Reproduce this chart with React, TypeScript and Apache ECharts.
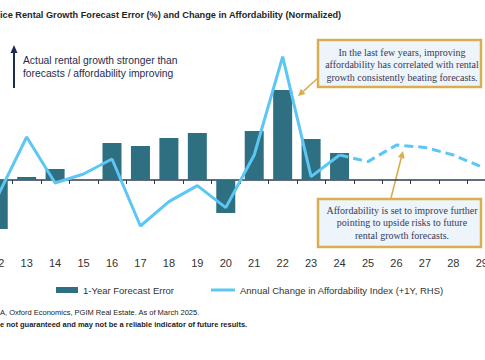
import React, { useEffect, useRef } from "react";
import * as echarts from "echarts";

const years = ["12", "13", "14", "15", "16", "17", "18", "19", "20", "21", "22", "23", "24", "25", "26", "27", "28", "29"];
const forecastError = [-2.45, 0.15, 0.55, 0, 1.85, 1.7, 2.1, 2.35, -1.65, 2.45, 4.5, 2.05, 1.35, null, null, null, null, null];
const affordActual = [-0.75, 2.15, -0.15, 0.3, 1.05, -2.3, -1.08, -0.28, -1.38, 1.25, 6.17, 0.17, 1.25, null, null, null, null, null];
const affordForecast = [null, null, null, null, null, null, null, null, null, null, null, null, 1.25, 0.92, 1.75, 1.63, 1.25, 0.65];

const BAR_NAME = "1-Year Forecast Error";
const LINE_NAME = "Annual Change in Affordability Index (+1Y, RHS)";
const TITLE = "ice Rental Growth Forecast Error (%) and Change in Affordability (Normalized)";
const NOTE1 = ["Actual rental growth stronger than", "forecasts / affordability improving"];
const BOX1 = ["In the last few years, improving", "affordability has correlated with rental", "growth consistently beating forecasts."];
const BOX2 = ["Affordability is set to improve further", "pointing to upside risks to future", "rental growth forecasts."];
const FOOT1 = "A, Oxford Economics, PGIM Real Estate. As of March 2025.";
const FOOT2 = "e not guaranteed and may not be a reliable indicator of future results.";

const SANS = "'Liberation Sans', Arial, sans-serif";
const SERIF = "'Liberation Serif', 'Times New Roman', serif";
const NAVY = "#1F2D4D";
const GOLD = "#D9AE50";
const BAR = "#2F6F82";
const LINE = "#5CC6F4";
const OFF_L = 16;
const OFF_R = 11;

function arrow(x1: number, y1: number, x2: number, y2: number, color: string, w: number, hl: number, hw: number) {
  const dx = x2 - x1, dy = y2 - y1;
  const len = Math.sqrt(dx * dx + dy * dy);
  const ux = dx / len, uy = dy / len;
  const bx = x2 - ux * hl, by = y2 - uy * hl;
  const px = -uy, py = ux;
  return [
    { type: "line", shape: { x1, y1, x2: bx, y2: by }, style: { stroke: color, lineWidth: w } },
    {
      type: "polygon",
      shape: { points: [[x2, y2], [bx + px * hw, by + py * hw], [bx - px * hw, by - py * hw]] },
      style: { fill: color },
    },
  ];
}

function textLines(lines: string[], x: number, y0: number, dy: number, style: any) {
  return lines.map((t, i) => ({
    type: "text",
    x,
    y: y0 + i * dy,
    style: { text: t, verticalAlign: "middle", ...style },
  }));
}

export default function App() {
  const ref = useRef<HTMLDivElement>(null);
  useEffect(() => {
    if (!ref.current) return;
    const chart = echarts.init(ref.current, null, { renderer: "svg" });
    chart.setOption({
      animation: false,
      backgroundColor: "#ffffff",
      grid: { left: 0, right: 0, top: 40, bottom: 110, containLabel: false },
      xAxis: {
        type: "category",
        data: years,
        boundaryGap: true,
        axisLine: { onZero: true, lineStyle: { color: "#2E3B55", width: 1.5 } },
        axisTick: { show: true, length: 4, lineStyle: { color: "#2E3B55", width: 1 } },
        axisLabel: { margin: 7, fontSize: 11, color: "#333333", fontFamily: SANS },
        splitLine: { show: false },
      },
      yAxis: [
        { type: "value", min: -3.5, max: 7, show: false, splitLine: { show: false } },
        { type: "value", min: -3.5, max: 7, show: false, splitLine: { show: false } },
      ],
      legend: [
        {
          left: 51 + OFF_L,
          top: 280,
          itemWidth: 22,
          itemHeight: 6,
          data: [{ name: BAR_NAME, icon: "rect" }],
          textStyle: { fontSize: 9.5, color: "#333333", fontFamily: SANS },
        },
        {
          left: 206 + OFF_L,
          top: 280,
          itemWidth: 24,
          itemHeight: 3,
          data: [{ name: LINE_NAME, icon: "rect" }],
          textStyle: { fontSize: 9.5, color: "#333333", fontFamily: SANS },
        },
      ],
      series: [
        {
          name: BAR_NAME,
          type: "bar",
          data: forecastError,
          barWidth: 19,
          itemStyle: { color: BAR },
          z: 2,
        },
        {
          name: LINE_NAME,
          type: "line",
          yAxisIndex: 1,
          data: affordActual,
          symbol: "none",
          lineStyle: { color: LINE, width: 3 },
          itemStyle: { color: LINE },
          z: 3,
        },
        {
          name: LINE_NAME,
          type: "line",
          yAxisIndex: 1,
          data: affordForecast,
          symbol: "none",
          lineStyle: { color: LINE, width: 3, type: [9, 5] },
          itemStyle: { color: LINE },
          z: 3,
        },
      ],
      graphic: [
        {
          type: "group",
          x: OFF_L,
          y: 0,
          z: 10,
          children: [
            {
              type: "text",
              x: 0,
              y: 15,
              style: { text: TITLE, fontSize: 9.2, fontWeight: "bold", fill: "#262626", fontFamily: SANS, verticalAlign: "middle" },
            },
            ...arrow(14, 88, 14, 45, NAVY, 2, 8, 3.5),
            ...textLines(NOTE1, 23, 60, 13.5, { fontSize: 10.3, fill: NAVY, fontFamily: SANS }),
            {
              type: "rect",
              shape: { x: 318, y: 40, width: 163, height: 47 },
              style: { fill: "#EDF4FA", stroke: GOLD, lineWidth: 2.5 },
            },
            ...textLines(BOX1, 402, 52, 12.7, { fontSize: 10, fill: "#3A3A58", fontFamily: SERIF, align: "center" }),
            {
              type: "rect",
              shape: { x: 318, y: 199, width: 163, height: 48 },
              style: { fill: "#EDF4FA", stroke: GOLD, lineWidth: 2.5 },
            },
            ...textLines(BOX2, 402, 210, 12.5, { fontSize: 10, fill: "#3A3A58", fontFamily: SERIF, align: "center" }),
            ...arrow(318, 78, 298, 96, GOLD, 1.6, 7, 3.5),
            ...arrow(391, 198, 403, 151, GOLD, 1.6, 7, 3.5),
            {
              type: "text",
              x: 0,
              y: 312,
              style: { text: FOOT1, fontSize: 7.5, fill: "#222222", fontFamily: SANS, verticalAlign: "middle" },
            },
            {
              type: "text",
              x: 0,
              y: 324,
              style: { text: FOOT2, fontSize: 7.5, fontWeight: "bold", fill: "#222222", fontFamily: SANS, verticalAlign: "middle" },
            },
          ],
        },
      ],
    });
    return () => chart.dispose();
  }, []);
  return (
    <div style={{ position: "fixed", left: 0, top: 0, width: 485, height: 360, overflow: "hidden", background: "#fff" }}>
      <div ref={ref} style={{ position: "absolute", left: -OFF_L, top: 0, width: 485 + OFF_L + OFF_R, height: 360 }} />
    </div>
  );
}
